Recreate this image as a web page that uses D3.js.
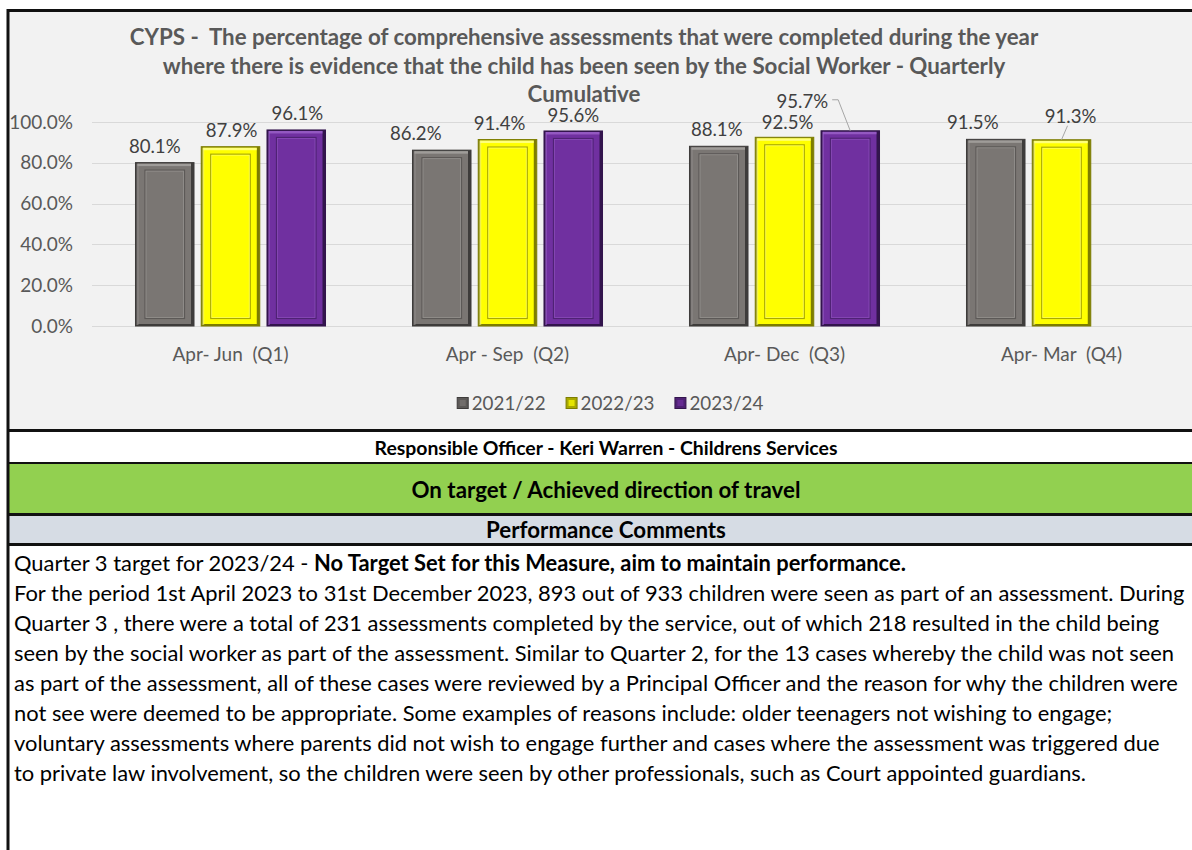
<!DOCTYPE html>
<html>
<head>
<meta charset="utf-8">
<script src="https://cdn.jsdelivr.net/npm/d3@7"></script>
<style>
  body { margin: 0; background: #fff; }
  svg { display: block; font-family: Lato, "Open Sans", sans-serif; }
</style>
</head>
<body>
<svg width="1192" height="850"></svg>
<script>
// Data
const quarters = ["Apr- Jun  (Q1)", "Apr - Sep  (Q2)", "Apr- Dec  (Q3)", "Apr- Mar  (Q4)"];
const years = ["2021/22", "2022/23", "2023/24"];
const v2122 = [0.801, 0.862, 0.881, 0.915];
const v2223 = [0.879, 0.914, 0.925, 0.913];
const v2324 = [0.961, 0.956, 0.957, null];
const yTicks = [0, 0.2, 0.4, 0.6, 0.8, 1.0];

const titleLines = [
  "CYPS -  The percentage of comprehensive assessments that were completed during the year",
  "where there is evidence that the child has been seen by the Social Worker - Quarterly",
  "Cumulative"
];
const officer = "Responsible Officer - Keri Warren - Childrens Services";
const status = "On target / Achieved direction of travel";
const commentsHead = "Performance Comments";
const comments = [
  "For the period 1st April 2023 to 31st December 2023, 893 out of 933 children were seen as part of an assessment. During",
  "Quarter 3 , there were a total of 231 assessments completed by the service, out of which 218 resulted in the child being",
  "seen by the social worker as part of the assessment. Similar to Quarter 2, for the 13 cases whereby the child was not seen",
  "as part of the assessment, all of these cases were reviewed by a Principal Officer and the reason for why the children were",
  "not see were deemed to be appropriate. Some examples of reasons include: older teenagers not wishing to engage;",
  "voluntary assessments where parents did not wish to engage further and cases where the assessment was triggered due",
  "to private law involvement, so the children were seen by other professionals, such as Court appointed guardians."
];

const series = [v2122, v2223, v2324];
const rows = [];
quarters.forEach((q, i) => years.forEach((yr, j) => {
  if (series[j][i] != null) rows.push({ q, yr, qi: i, si: j, v: series[j][i] });
}));

// styling per series
const palette = {
  "2021/22": { base: "#7a7673", dark: "#3e3c3b", light: "#a9a6a3", inner: "#5c5957" },
  "2022/23": { base: "#ffff00", dark: "#7d7d00", light: "#ffff9a", inner: "#a8a800" },
  "2023/24": { base: "#7030a0", dark: "#33154d", light: "#9c63c9", inner: "#4f2274" }
};
// manual label nudges (dx, extra lift) so labels don't collide, like the original
const labelNudge = {
  "0-0": [-10, 0], "0-1": [1, 0], "0-2": [1, 0],
  "1-0": [-26, 0], "1-1": [-8, 0], "1-2": [0, -1],
  "2-0": [-2, 0], "2-1": [3, -2], "2-2": [-48, 13],
  "3-0": [-23, 0], "3-1": [9, 7]
};

const svg = d3.select("svg");
const W = 1192;

// chart panel
svg.append("rect").attr("x", 8).attr("y", 11).attr("width", W).attr("height", 420).attr("fill", "#f2f2f2");

const x0 = d3.scaleBand().domain(quarters).range([92, 1200]).paddingInner(0.314).paddingOuter(0.157);
const x1 = d3.scaleBand().domain(years).range([0, x0.bandwidth()]).paddingInner(0.11);
const y = d3.scaleLinear().domain([0, 1]).range([326, 122]);

// gridlines
svg.append("g").selectAll("line").data(yTicks).join("line")
  .attr("x1", 92).attr("x2", W)
  .attr("y1", d => Math.round(y(d)) + 0.5).attr("y2", d => Math.round(y(d)) + 0.5)
  .attr("stroke", "#d9d9d9").attr("stroke-width", 1);

// y axis labels
svg.append("g").selectAll("text").data(yTicks).join("text")
  .attr("x", 73).attr("y", d => y(d)).attr("dy", "0.35em")
  .attr("text-anchor", "end").attr("font-size", 19).attr("fill", "#595959")
  .text(d3.format(".1%"));

// x axis labels
svg.append("g").selectAll("text").data(quarters).join("text")
  .attr("x", d => x0(d) + x0.bandwidth() / 2).attr("y", 354).attr("dy", "0.35em")
  .attr("text-anchor", "middle").attr("font-size", 19).attr("fill", "#595959")
  .attr("xml:space", "preserve").style("white-space", "pre")
  .text(d => d);

// bars with a bevelled look
const bars = svg.append("g").selectAll("g").data(rows).join("g")
  .attr("transform", d => `translate(${x0(d.q) + x1(d.yr)},${y(d.v)})`);
const bw = x1.bandwidth();
bars.append("rect").attr("width", bw).attr("height", d => y(0) - y(d.v))
  .attr("fill", d => palette[d.yr].dark);
bars.append("rect").attr("x", 2).attr("y", 1).attr("width", bw - 5).attr("height", d => y(0) - y(d.v) - 3)
  .attr("fill", d => palette[d.yr].base);
bars.append("rect").attr("x", 2).attr("y", 1).attr("width", bw - 5).attr("height", 2.5)
  .attr("fill", d => palette[d.yr].light).attr("opacity", 0.8);
bars.append("rect").attr("x", 1).attr("y", 1).attr("width", 2).attr("height", d => y(0) - y(d.v) - 2)
  .attr("fill", d => palette[d.yr].light).attr("opacity", 0.5);
bars.append("rect").attr("x", 9.5).attr("y", 7.5).attr("width", bw - 19).attr("height", d => y(0) - y(d.v) - 15)
  .attr("fill", "none").attr("stroke", d => palette[d.yr].inner).attr("stroke-width", 1.2);
bars.append("rect").attr("x", 10.5).attr("y", 8.5).attr("width", bw - 21).attr("height", d => y(0) - y(d.v) - 17)
  .attr("fill", "none").attr("stroke", d => palette[d.yr].light).attr("stroke-width", 0.8).attr("opacity", 0.6);
bars.append("rect").attr("width", bw).attr("height", d => y(0) - y(d.v))
  .attr("fill", "none").attr("stroke", d => palette[d.yr].dark).attr("stroke-width", 1);

// data labels
const labels = svg.append("g").selectAll("text").data(rows).join("text")
  .attr("x", d => x0(d.q) + x1(d.yr) + bw / 2 + labelNudge[d.qi + "-" + d.si][0])
  .attr("y", d => y(d.v) - 10 - labelNudge[d.qi + "-" + d.si][1])
  .attr("text-anchor", "middle").attr("font-size", 18.6).attr("fill", "#404040")
  .text(d => d3.format(".1%")(d.v));

// leader lines for displaced labels
labels.filter(d => labelNudge[d.qi + "-" + d.si][1] > 5).each(function(d) {
  const bb = this.getBBox();
  const bx = x0(d.q) + x1(d.yr) + bw / 2;
  const pts = bb.x + bb.width < bx - 5
    ? [[bb.x + bb.width + 4, bb.y + bb.height / 2 - 1], [bb.x + bb.width + 10, bb.y + bb.height / 2 - 1], [bx, y(d.v)]]
    : [[bb.x + bb.width / 2 - 3, bb.y + bb.height - 1], [bx, y(d.v)]];
  svg.append("path").attr("d", d3.line()(pts))
    .attr("fill", "none").attr("stroke", "#a6a6a6").attr("stroke-width", 1);
});

// legend
const legend = svg.append("g");
let lx = 0;
years.forEach(yr => {
  const g = legend.append("g").attr("transform", `translate(${lx},0)`);
  g.append("rect").attr("x", 0.5).attr("y", -5.5).attr("width", 11).attr("height", 11)
    .attr("fill", palette[yr].inner).attr("stroke", palette[yr].dark);
  g.append("rect").attr("x", 3).attr("y", -3).attr("width", 6).attr("height", 6)
    .attr("fill", palette[yr].base).attr("opacity", 0.7);
  const t = g.append("text").attr("x", 15).attr("dy", "0.35em").attr("font-size", 18.8).attr("fill", "#595959").text(yr);
  lx += 15 + t.node().getComputedTextLength() + 20;
});
lx -= 20;
legend.attr("transform", `translate(${610 - lx / 2},403)`);

// title
svg.append("g").selectAll("text").data(titleLines).join("text")
  .attr("x", 584).attr("y", (d, i) => 37.5 + i * 28.5).attr("dy", "0.35em")
  .attr("text-anchor", "middle").attr("font-size", 22.3).attr("font-weight", "bold").attr("fill", "#595959")
  .attr("xml:space", "preserve").style("white-space", "pre")
  .text(d => d);

// table rows below the chart
svg.append("rect").attr("x", 8).attr("y", 464).attr("width", W).attr("height", 50).attr("fill", "#92d050");
svg.append("rect").attr("x", 8).attr("y", 515).attr("width", W).attr("height", 30).attr("fill", "#d6dce4");
[[430.5, 3], [463, 2], [514.5, 3], [544.5, 3], [10.5, 3]].forEach(([ly, sw]) => {
  svg.append("line").attr("x1", 7).attr("x2", W).attr("y1", ly).attr("y2", ly)
    .attr("stroke", "#111").attr("stroke-width", sw);
});
svg.append("line").attr("x1", 8).attr("x2", 8).attr("y1", 9).attr("y2", 850)
  .attr("stroke", "#111").attr("stroke-width", 3);

const head = [[officer, 448, 19.4], [status, 490, 22.3], [commentsHead, 530, 22.3]];
head.forEach(([t, cy, fs]) => {
  svg.append("text").attr("x", 606).attr("y", cy).attr("dy", "0.35em").attr("text-anchor", "middle")
    .attr("font-size", fs).attr("font-weight", "bold").attr("fill", "#000").text(t);
});

// comments paragraph
const para = svg.append("g").attr("font-size", 21.9).attr("fill", "#000");
const first = para.append("text").attr("x", 14).attr("y", 563).attr("dy", "0.35em");
first.append("tspan").text("Quarter 3 target for 2023/24 - ");
first.append("tspan").attr("font-weight", "bold").text("No Target Set for this Measure, aim to maintain performance.");
para.selectAll("text.line").data(comments).join("text").attr("class", "line")
  .attr("x", 14).attr("y", (d, i) => 593 + i * 30).attr("dy", "0.35em").text(d => d);
</script>
</body>
</html>
